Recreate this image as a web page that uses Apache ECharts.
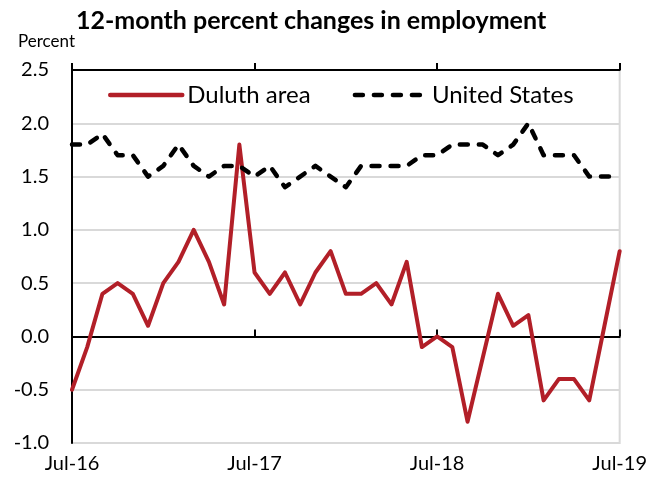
<!DOCTYPE html>
<html>
<head>
<meta charset="utf-8">
<script src="https://cdn.jsdelivr.net/npm/echarts@6/dist/echarts.min.js"></script>
<style>
  html, body { margin: 0; padding: 0; background: #ffffff; }
  #chart { width: 650px; height: 477px; }
</style>
</head>
<body>
<div id="chart"></div>
<script>
// Monthly periods, July 2016 through July 2019
const months = [
  'Jul-16', 'Aug-16', 'Sep-16', 'Oct-16', 'Nov-16', 'Dec-16',
  'Jan-17', 'Feb-17', 'Mar-17', 'Apr-17', 'May-17', 'Jun-17',
  'Jul-17', 'Aug-17', 'Sep-17', 'Oct-17', 'Nov-17', 'Dec-17',
  'Jan-18', 'Feb-18', 'Mar-18', 'Apr-18', 'May-18', 'Jun-18',
  'Jul-18', 'Aug-18', 'Sep-18', 'Oct-18', 'Nov-18', 'Dec-18',
  'Jan-19', 'Feb-19', 'Mar-19', 'Apr-19', 'May-19', 'Jun-19',
  'Jul-19'
];

// 12-month percent change in employment, Duluth area
const duluthArea = [
  -0.5, -0.1, 0.4, 0.5, 0.4, 0.1,
  0.5, 0.7, 1.0, 0.7, 0.3, 1.8,
  0.6, 0.4, 0.6, 0.3, 0.6, 0.8,
  0.4, 0.4, 0.5, 0.3, 0.7, -0.1,
  0.0, -0.1, -0.8, -0.2, 0.4, 0.1,
  0.2, -0.6, -0.4, -0.4, -0.6, 0.1,
  0.8
];

// 12-month percent change in employment, United States
const unitedStates = [
  1.8, 1.8, 1.9, 1.7, 1.7, 1.5,
  1.6, 1.8, 1.6, 1.5, 1.6, 1.6,
  1.5, 1.6, 1.4, 1.5, 1.6, 1.5,
  1.4, 1.6, 1.6, 1.6, 1.6, 1.7,
  1.7, 1.8, 1.8, 1.8, 1.7, 1.8,
  2.0, 1.7, 1.7, 1.7, 1.5, 1.5,
  1.5
];

const seriesNames = ['Duluth area', 'United States'];
const yMin = -1.0, yMax = 2.5, yStep = 0.5;
const tickEvery = 12; // one x tick per year

const FONT = 'Lato, "Open Sans", sans-serif';

// Shared settings for the two overlay axes drawn on the zero line
// (one carries the upward half of each tick, the other the downward half)
function zeroLineAxis(position) {
  return {
    type: 'category',
    data: months,
    boundaryGap: false,
    position: position,
    axisLine: { show: true, onZero: true, lineStyle: { color: '#000', width: 2 } },
    axisTick: { show: true, interval: tickEvery - 1, length: 7, inside: false,
                lineStyle: { color: '#000', width: 2 } },
    axisLabel: { show: false },
    splitLine: { show: false }
  };
}

const chart = echarts.init(document.getElementById('chart'), null, { renderer: 'canvas' });

chart.setOption({
  animation: false,
  backgroundColor: '#ffffff',
  textStyle: { fontFamily: FONT },
  title: {
    text: '12-month percent changes in employment',
    left: 71,
    top: 3,
    textStyle: { fontFamily: FONT, fontWeight: 'bold', fontSize: 25, color: '#000' }
  },
  graphic: [{
    type: 'text',
    left: 18,
    top: 33,
    style: { text: 'Percent', font: '17px ' + FONT, fill: '#000' }
  }],
  legend: {
    data: seriesNames,
    left: 108,
    top: 83,
    padding: 0,
    itemWidth: 72,
    itemHeight: 12,
    itemGap: 42,
    itemStyle: { color: 'transparent', borderWidth: 0 },
    lineStyle: { width: 4.5, cap: 'round' },
    textStyle: { fontFamily: FONT, fontSize: 24, color: '#000', padding: [0, 0, 0, 0] }
  },
  grid: {
    left: 72, right: 29, top: 70, bottom: 34,
    show: true, borderColor: '#d9d9d9', borderWidth: 2,
    containLabel: false
  },
  xAxis: [
    {
      type: 'category',
      data: months,
      boundaryGap: false,
      position: 'bottom',
      axisLine: { show: false, onZero: false },
      axisTick: { show: false },
      axisLabel: { interval: tickEvery - 1, fontSize: 20, color: '#000', margin: 11, fontFamily: FONT },
      splitLine: { show: false }
    },
    zeroLineAxis('top'),
    zeroLineAxis('top')
  ],
  yAxis: {
    type: 'value',
    min: yMin,
    max: yMax,
    interval: yStep,
    axisLine: { show: true, onZero: false, lineStyle: { color: '#000', width: 2 } },
    axisTick: { show: false },
    axisLabel: {
      fontSize: 20, color: '#000', margin: 23, fontFamily: FONT,
      formatter: v => v.toFixed(1)
    },
    splitLine: { show: true, lineStyle: { color: '#d9d9d9', width: 2 } }
  },
  series: [
    {
      name: seriesNames[0],
      type: 'line',
      xAxisIndex: 0,
      data: duluthArea,
      symbol: 'none',
      z: 3,
      lineStyle: { color: '#b21f28', width: 4, join: 'round', cap: 'round' },
      itemStyle: { color: '#b21f28' }
    },
    {
      name: seriesNames[1],
      type: 'line',
      xAxisIndex: 0,
      data: unitedStates,
      symbol: 'none',
      z: 4,
      lineStyle: { color: '#000', width: 4.5, type: [8, 11], join: 'round', cap: 'round' },
      itemStyle: { color: '#000' }
    }
  ]
});
</script>
</body>
</html>
